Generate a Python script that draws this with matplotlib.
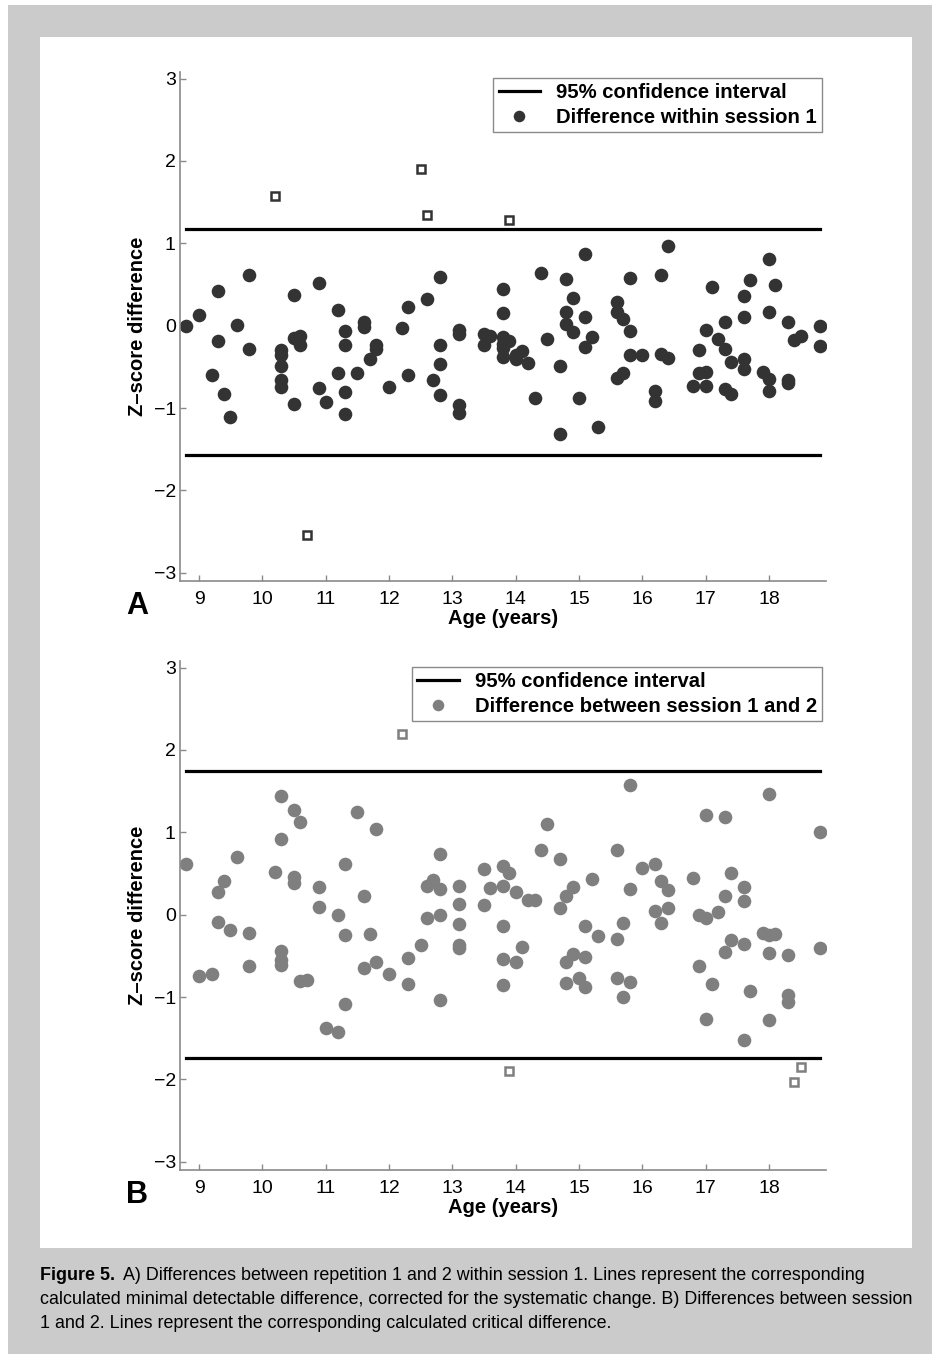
import matplotlib
matplotlib.use("Agg")
import matplotlib.pyplot as plt
from matplotlib.patches import Rectangle
from matplotlib.text import Annotation

plt.rcParams["font.family"] = ["Liberation Sans", "DejaVu Sans"]

# ---- panel A: difference within session 1 ----
ageA = [8.79, 9.0, 9.2, 9.3, 9.3, 9.4, 9.49, 9.6, 9.79, 9.79,
        10.3, 10.3, 10.3, 10.3, 10.3, 10.5, 10.5, 10.6, 10.6, 10.5,
        10.9, 10.9, 11.0, 11.2, 11.2, 11.3, 11.3, 11.3, 11.3, 11.5,
        11.6, 11.6, 11.7, 11.8, 11.8, 12.0, 12.2, 12.3, 12.3, 12.6,
        12.7, 12.8, 12.8, 12.8, 12.8, 13.1, 13.1, 13.1, 13.1, 13.5,
        13.5, 13.6, 13.8, 13.8, 13.8, 13.8, 13.8, 13.8, 13.9,
        14.0, 14.0, 14.1, 14.2, 14.3, 14.4, 14.5, 14.7, 14.7, 14.8,
        14.8, 14.8, 14.9, 14.9, 15.0, 15.1, 15.1, 15.1, 15.2, 15.3,
        15.6, 15.6, 15.7, 15.6, 15.7, 15.8, 15.8, 15.8, 16.0, 16.2,
        16.2, 16.3, 16.3, 16.4, 16.4,
        16.8, 16.9, 16.9, 17.0, 17.0, 17.0, 17.1, 17.2, 17.3, 17.3,
        17.3, 17.4, 17.4, 17.6, 17.6, 17.6, 17.6, 17.7, 17.9, 18.0,
        18.0, 18.0, 18.0, 18.1, 18.3, 18.3, 18.3, 18.4, 18.5, 18.8, 18.8]
zA = [0.0, 0.13, -0.60, 0.42, -0.18, -0.83, -1.11, 0.01, 0.61, -0.28,
      -0.30, -0.36, -0.49, -0.66, -0.75, 0.37, -0.15, -0.13, -0.23, -0.95,
      0.52, -0.76, -0.93, 0.19, -0.57, -0.06, -0.24, -0.80, -1.07, -0.57,
      0.04, -0.02, -0.41, -0.23, -0.28, -0.75, -0.03, 0.23, -0.60, 0.32,
      -0.66, 0.59, -0.24, -0.46, -0.84, -0.05, -0.10, -0.96, -1.06, -0.10,
      -0.23, -0.13, 0.45, 0.15, -0.14, -0.22, -0.27, -0.38, -0.18,
      -0.35, -0.40, -0.31, -0.45, -0.88, 0.64, -0.16, -0.49, -1.31, 0.57,
      0.16, 0.02, 0.34, -0.08, -0.88, 0.87, 0.11, -0.26, -0.14, -1.23,
      0.29, 0.16, 0.08, -0.64, -0.58, 0.58, -0.07, -0.36, -0.36, -0.79,
      -0.91, 0.61, -0.34, -0.39, 0.97,
      -0.73, -0.29, -0.58, -0.56, -0.73, -0.05, 0.47, -0.16, 0.04, -0.28,
      -0.77, -0.44, -0.83, 0.36, 0.11, -0.41, -0.53, 0.56, -0.56, 0.81,
      0.17, -0.65, -0.79, 0.49, 0.04, -0.66, -0.69, -0.17, -0.13, 0.0, -0.25]
outA_age = [10.2, 12.5, 12.6, 13.9, 10.7]
outA_z = [1.58, 1.90, 1.34, 1.28, -2.54]
limA = [1.17, -1.57]

# ---- panel B: difference between session 1 and 2 ----
ageB = [8.79, 9.0, 9.2, 9.3, 9.4, 9.3, 9.49, 9.6, 9.79, 9.79,
        10.2, 10.3, 10.3, 10.3, 10.3, 10.3, 10.5, 10.6, 10.5, 10.5,
        10.6, 10.7, 10.9, 10.9, 11.0, 11.2, 11.2, 11.3, 11.3, 11.3,
        11.5, 11.6, 11.6, 11.7, 11.8, 11.8, 12.0, 12.3, 12.3, 12.5,
        12.6, 12.6, 12.7, 12.8, 12.8, 12.8, 12.8, 13.1, 13.1, 13.1,
        13.1, 13.1, 13.5, 13.5, 13.6, 13.8, 13.8, 13.8, 13.8, 13.8,
        13.9, 14.0, 14.2, 14.3, 14.4, 14.5, 14.7, 14.7, 14.8, 14.9,
        14.1, 14.0, 14.8, 14.9, 14.8, 15.0, 15.1, 15.1, 15.1, 15.2,
        15.3, 15.6, 15.6, 15.6, 15.7, 15.7, 15.8, 15.8, 15.8, 16.0,
        16.2, 16.2, 16.3, 16.4, 16.4, 16.3, 16.8, 16.9, 17.0, 16.9,
        17.0, 17.0, 17.1, 17.2, 17.3, 17.3, 17.3, 17.4, 17.4, 17.6,
        17.6, 17.6, 17.6, 17.7, 17.9, 18.0, 18.1, 18.0, 18.0, 18.0,
        18.3, 18.3, 18.3, 18.8, 18.8]
zB = [0.61, -0.75, -0.72, 0.27, 0.41, -0.09, -0.19, 0.70, -0.22, -0.62,
      0.52, 1.44, 0.92, -0.44, -0.55, -0.61, 1.27, 1.13, 0.46, 0.39,
      -0.80, -0.79, 0.34, 0.09, -1.38, 0.0, -1.42, 0.62, -0.25, -1.08,
      1.25, 0.23, -0.65, -0.23, 1.04, -0.57, -0.72, -0.53, -0.84, -0.37,
      0.35, -0.04, 0.42, 0.74, 0.31, 0.0, -1.03, 0.35, 0.13, -0.11,
      -0.37, -0.41, 0.55, 0.12, 0.32, 0.59, 0.35, -0.14, -0.54, -0.85,
      0.50, 0.27, 0.18, 0.18, 0.78, 1.10, 0.68, 0.08, 0.23, 0.34,
      -0.39, -0.57, -0.58, -0.48, -0.83, -0.77, -0.88, -0.51, -0.14, 0.43,
      -0.26, 0.79, -0.30, -0.77, -0.10, -1.00, 1.58, 0.31, -0.82, 0.57,
      0.62, 0.05, 0.41, 0.30, 0.08, -0.10, 0.45, 0.0, -0.04, -0.62,
      1.21, -1.27, -0.84, 0.03, 1.19, 0.23, -0.45, 0.51, -0.31, 0.33,
      0.17, -0.36, -1.52, -0.93, -0.22, -0.25, -0.23, 1.46, -0.47, -1.28,
      -0.49, -0.97, -1.06, 1.00, -0.40]
outB_age = [12.2, 13.9, 18.5, 18.4]
outB_z = [2.19, -1.90, -1.85, -2.03]
limB = [1.74, -1.74]

line_x = [8.8, 18.8]
xticks = list(range(9, 19))
yticks = [-3, -2, -1, 0, 1, 2, 3]

W, H = 932, 1354
fig = plt.figure(figsize=(W / 100, H / 100), dpi=100)
fig.patch.set_facecolor("#cbcbcb")


def rect(x0, y0, x1, y1, c):
    # pixel box (top-left origin) -> figure patch
    fig.patches.append(Rectangle((x0 / W, 1 - y1 / H), (x1 - x0) / W, (y1 - y0) / H,
                                 transform=fig.transFigure, facecolor=c,
                                 edgecolor="none", zorder=-10))


rect(0, 0, W, 5, "white")
rect(0, 0, 8, H, "white")
rect(40, 37, 912, 1248, "white")

gray = "#8a8a8a"


def panel(pos, age, z, out_age, out_z, lims, col, lab, letter, leg_top):
    ax = fig.add_axes(pos)
    ax.plot(line_x, [lims[0]] * 2, color="black", lw=2.3, label="95% confidence interval")
    ax.plot(line_x, [lims[1]] * 2, color="black", lw=2.3)
    ax.plot(age, z, "o", ms=9.8, color=col, mec="none", label=lab)
    ax.plot(out_age, out_z, "s", ms=6.3, mfc="white", mec=col, mew=1.8)
    ax.set_xlim(8.7, 18.9)
    ax.set_ylim(-3.1, 3.08)
    ax.set_xticks(xticks)
    ax.set_yticks(yticks)
    ax.set_yticklabels(["\u22123", "\u22122", "\u22121", "0", "1", "2", "3"])
    for s in ["top", "right"]:
        ax.spines[s].set_visible(False)
    for s in ["left", "bottom"]:
        ax.spines[s].set_color(gray)
        ax.spines[s].set_linewidth(1.2)
    ax.tick_params(direction="in", length=4, width=1, color=gray, labelsize=14)
    ax.tick_params(axis="x", pad=7)
    ax.tick_params(axis="y", pad=3)
    ax.set_xlabel("Age (years)", fontsize=14.5, fontweight="bold", labelpad=1)
    ax.set_ylabel("Z\u2013score difference", fontsize=14.5, fontweight="bold", labelpad=5)
    ax.text(-0.0666, -0.049, letter, transform=ax.transAxes, fontsize=22,
            fontweight="bold", ha="center", va="center")
    leg = ax.legend(loc="upper right", bbox_to_anchor=(0.994, leg_top), borderaxespad=0,
                    fancybox=False, framealpha=1, edgecolor=gray, handlelength=2.05,
                    handletextpad=0.8, borderpad=0.25, labelspacing=0.28,
                    markerscale=0.85, prop={"weight": "bold", "size": 14.6})
    leg.get_frame().set_linewidth(1.0)
    return ax


posA = [180 / W, 1 - 581 / H, 646 / W, 509 / H]
posB = [180 / W, 1 - 1170 / H, 646 / W, 509 / H]
panel(posA, ageA, zA, outA_age, outA_z, limA, "#333333",
      "Difference within session 1", "A", 0.988)
panel(posB, ageB, zB, outB_age, outB_z, limB, "#7f7f7f",
      "Difference between session 1 and 2", "B", 0.988)

cap_size = 12.9
t0 = fig.text(40 / W, 1 - 1275 / H, "Figure 5.", fontsize=cap_size, fontweight="bold",
              va="center")
fig.add_artist(Annotation(
    "A) Differences between repetition 1 and 2 within session 1. Lines represent the corresponding",
    xy=(1, 0), xycoords=t0, xytext=(6, 0), textcoords="offset points",
    fontsize=cap_size, va="bottom"))
fig.text(40 / W, 1 - 1299 / H,
         "calculated minimal detectable difference, corrected for the systematic change. B) Differences between session",
         fontsize=cap_size, va="center")
fig.text(40 / W, 1 - 1323 / H,
         "1 and 2. Lines represent the corresponding calculated critical difference.",
         fontsize=cap_size, va="center")

fig.savefig("out.png", dpi=100, facecolor=fig.get_facecolor())
